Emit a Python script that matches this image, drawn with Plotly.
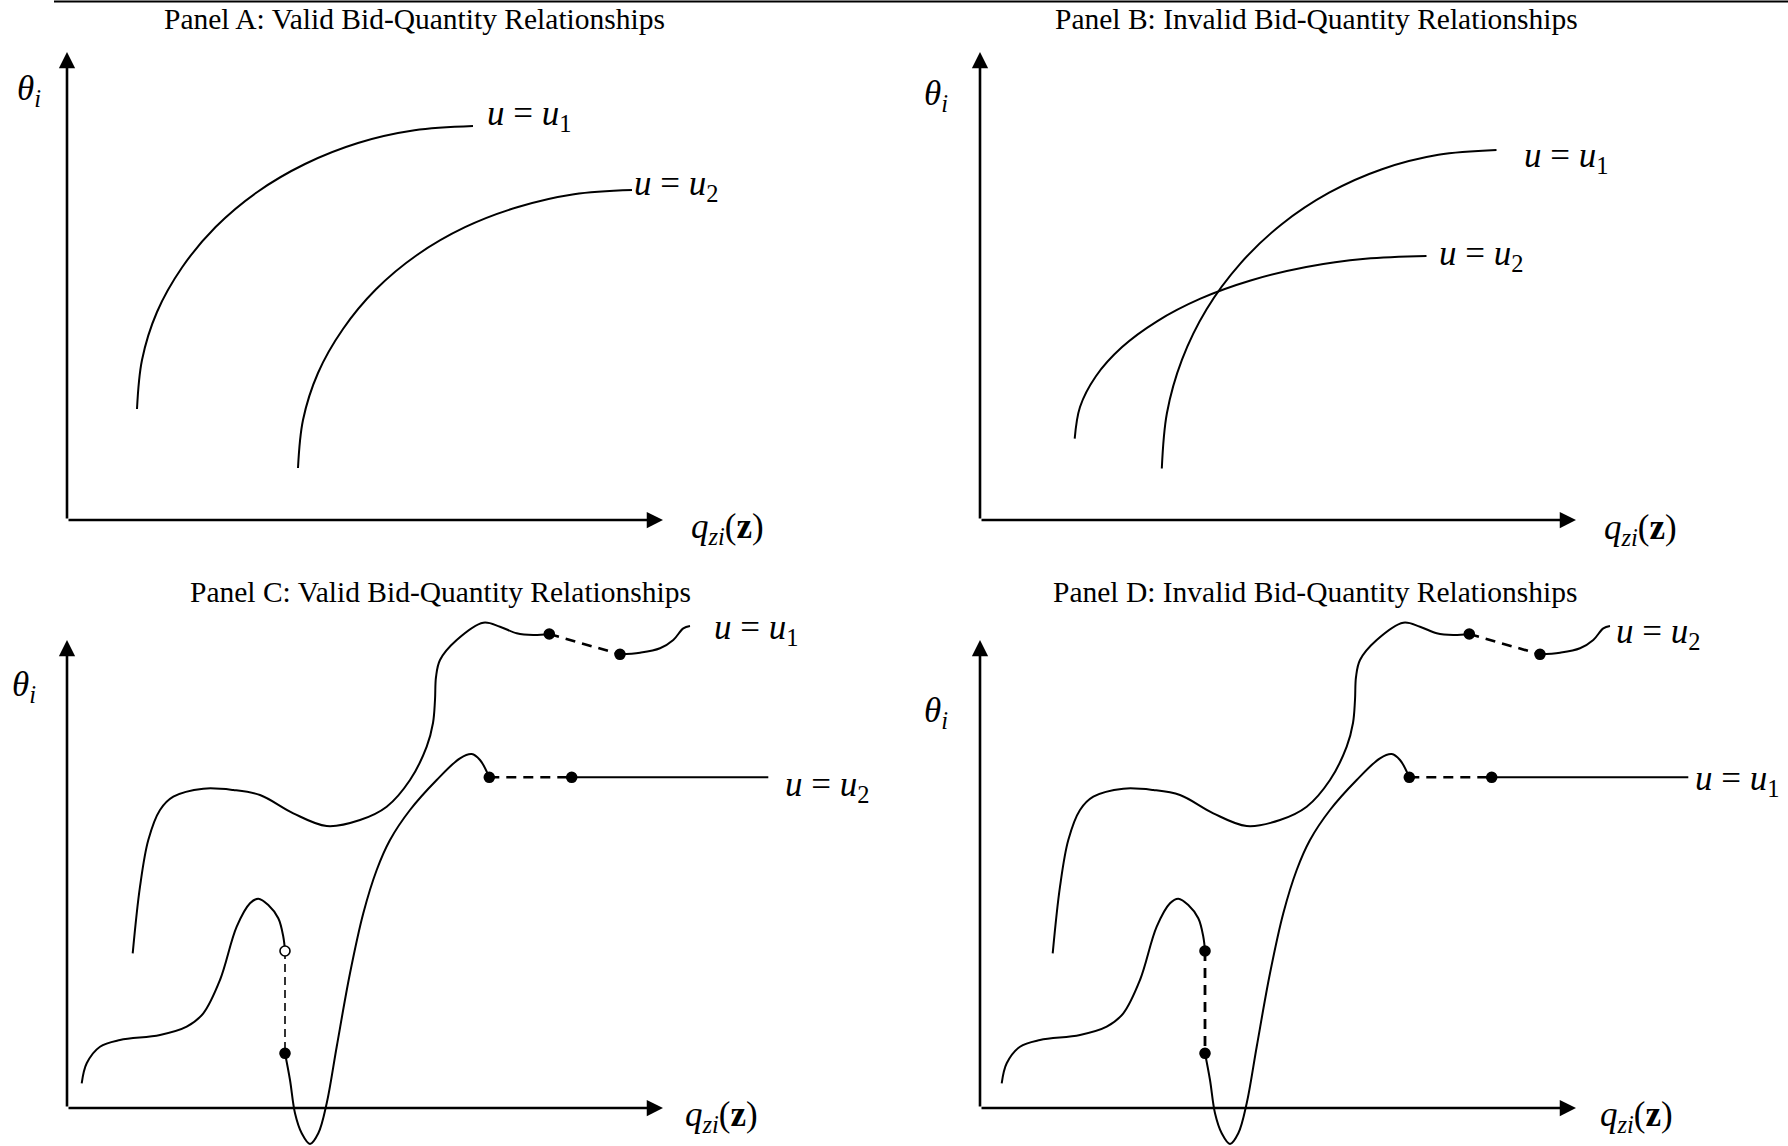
import plotly.graph_objects as go

W, H = 1788, 1146

# ---------------- data (axis units; origin = axis corner) ----------------
# Panel A
a_u1_x = [70, 75, 90, 115, 148.6, 190, 238, 291, 347.5, 406]
a_u1_y = [111, 160, 208, 252.5, 293, 327.8, 356, 377, 389.7, 394]
a_u2_x = [231, 236, 251, 276, 309, 350, 398, 451, 507, 565]
a_u2_y = [52, 100, 147, 191, 230.7, 265, 292.8, 313, 325.8, 330]

# Panel B
b_u1_x = [181.8, 186.9, 202, 226.6, 260.1, 301.4, 349.1, 402, 458.4, 516.5]
b_u1_y = [51.5, 106.8, 160.4, 210.8, 256.2, 295.5, 327.3, 350.8, 365.2, 370]
b_u2_x = [94.7, 100, 115.9, 141.8, 177, 220.4, 270.6, 326.2, 385.4, 446.5]
b_u2_y = [81.3, 113, 143.8, 172.7, 198.7, 221.3, 239.5, 253, 261.2, 264]

# Panels C and D (same curves)
upper_a_x = [65.7, 73, 81.3, 93, 106.3, 136.3, 166.3, 193, 226.3, 259.7, 293, 319.7,
             343, 359.7, 366, 368, 369, 373, 389.7, 416.3, 433, 449.7, 466.3, 482.3]
upper_a_y = [154.7, 221.3, 268, 298, 311.3, 319.3, 318, 313, 294.7, 282, 288, 301.3,
             328, 361.3, 385, 408, 431, 448, 468, 485.3, 481.3, 474.7, 473, 474]
upper_jump_x = [482.3, 553]
upper_jump_y = [474, 453.7]
upper_b_x = [553, 573, 593, 606.3, 616.3, 623]
upper_b_y = [453.7, 455.3, 459.7, 468, 479.7, 482]

lower_a_x = [14.7, 19.7, 33, 53, 93, 119.7, 136.3, 153, 169.7, 183, 191.3, 201.3, 211.3, 216.3, 218]
lower_a_y = [24.7, 44.7, 61.3, 68, 73, 81.3, 94.7, 128, 181.3, 204.7, 209.3, 203, 189.7, 171.3, 157]
lower_jump1_x = [218, 218]
lower_jump1_y = [157, 54.7]
lower_b_x = [218, 223, 228, 234.7, 243, 251.3, 259.7, 269.7, 283, 296.3, 309.7, 323,
             343, 369.7, 393, 404.7, 413, 422.3]
lower_b_y = [54.7, 28, -5.3, -25.3, -36, -25.3, 4.7, 61.3, 134.7, 194.7, 238, 268,
             298, 328, 349.7, 354, 348, 330.7]
lower_jump2_x = [422.3, 504.7]
lower_jump2_y = [330.7, 330.7]
lower_c_x = [504.7, 701.3]
lower_c_y = [330.7, 330.7]

axis_len_x = 596
axis_len_y = 468

titles = ["Panel A: Valid Bid-Quantity Relationships",
          "Panel B: Invalid Bid-Quantity Relationships",
          "Panel C: Valid Bid-Quantity Relationships",
          "Panel D: Invalid Bid-Quantity Relationships"]

U1 = "<i>u</i> = <i>u</i><sub>1</sub>"
U2 = "<i>u</i> = <i>u</i><sub>2</sub>"
THETA = "<i>θ</i><sub><i>i</i></sub>"
QZI = "<i>q</i><sub><i>zi</i></sub>(<b>z</b>)"

# ---------------- layout config (pixels) ----------------
panels = [
    dict(key="", box=(0, 0, 894, 573), origin=(67, 520), axis_at=0,
         title_xy=(414, 19)),
    dict(key="2", box=(894, 0, 1788, 573), origin=(980, 520), axis_at=0,
         title_xy=(1316, 19)),
    dict(key="3", box=(0, 573, 894, 1146), origin=(67, 1108), axis_at=0,
         title_xy=(440, 592)),
    dict(key="4", box=(894, 573, 1788, 1146), origin=(987, 1108), axis_at=-7,
         title_xy=(1315, 592)),
]

SERIF = "Liberation Serif"
MATH_SIZE = 35
TITLE_SIZE = 29.5
INK = "black"

fig = go.Figure()
layout = dict(width=W, height=H, margin=dict(l=0, r=0, t=0, b=0),
              paper_bgcolor="white", plot_bgcolor="white", showlegend=False)
annotations = []
shapes = []


def line(p, xs, ys, width=2.0, dash=None):
    k = p["key"]
    fig.add_trace(go.Scatter(
        x=xs, y=ys, mode="lines", xaxis="x" + k, yaxis="y" + k,
        line=dict(color=INK, width=width, shape="spline", smoothing=1.0,
                  dash=dash),
        hoverinfo="skip"))


def dots(p, xs, ys, filled):
    k = p["key"]
    fig.add_trace(go.Scatter(
        x=xs, y=ys, mode="markers", xaxis="x" + k, yaxis="y" + k,
        marker=dict(size=10, color=[INK if f else "white" for f in filled],
                    line=dict(color=INK, width=1.6)),
        cliponaxis=False, hoverinfo="skip"))


def label(p, x, y, text, anchor="left", size=MATH_SIZE):
    k = p["key"]
    annotations.append(dict(x=x, y=y, xref="x" + k, yref="y" + k, text=text,
                            showarrow=False, xanchor=anchor, yanchor="middle",
                            font=dict(family=SERIF, size=size, color=INK)))


for i, p in enumerate(panels):
    k = p["key"]
    x0, y0, x1, y1 = p["box"]
    ox, oy = p["origin"]
    layout["xaxis" + k] = dict(domain=[x0 / W, x1 / W], range=[x0 - ox, x1 - ox],
                               visible=False, fixedrange=True)
    layout["yaxis" + k] = dict(domain=[1 - y1 / H, 1 - y0 / H], range=[oy - y1, oy - y0],
                               visible=False, fixedrange=True)
    ax0 = p["axis_at"]
    # axes drawn as arrows
    annotations.append(dict(x=ax0 + axis_len_x, y=0, ax=ax0, ay=0,
                            xref="x" + k, yref="y" + k, axref="x" + k, ayref="y" + k,
                            text="", showarrow=True, arrowhead=2, arrowsize=1.25,
                            arrowwidth=2.6, arrowcolor=INK, standoff=0))
    annotations.append(dict(x=ax0, y=axis_len_y, ax=ax0, ay=0,
                            xref="x" + k, yref="y" + k, axref="x" + k, ayref="y" + k,
                            text="", showarrow=True, arrowhead=2, arrowsize=1.25,
                            arrowwidth=2.6, arrowcolor=INK, standoff=0))
    tx, ty = p["title_xy"]
    annotations.append(dict(x=tx / W, y=1 - ty / H, xref="paper", yref="paper",
                            text=titles[i], showarrow=False,
                            xanchor="center", yanchor="middle",
                            font=dict(family=SERIF, size=TITLE_SIZE, color=INK)))

pA, pB, pC, pD = panels

# Panel A
line(pA, a_u1_x, a_u1_y)
line(pA, a_u2_x, a_u2_y)
label(pA, -38, 430, THETA, anchor="center")
label(pA, 417.5, 404.5, U1)
label(pA, 564.5, 334.5, U2)
label(pA, 622, -8, QZI)

# Panel B
line(pB, b_u1_x, b_u1_y)
line(pB, b_u2_x, b_u2_y)
label(pB, -44.5, 425, THETA, anchor="center")
label(pB, 541.5, 363, U1)
label(pB, 456.5, 265, U2)
label(pB, 622, -9, QZI)

# Panels C and D
for p, open_top in ((pC, True), (pD, False)):
    line(p, upper_a_x, upper_a_y)
    line(p, upper_jump_x, upper_jump_y, width=2.6, dash="10px,7px")
    line(p, upper_b_x, upper_b_y)
    line(p, lower_a_x, lower_a_y)
    if open_top:
        line(p, lower_jump1_x, lower_jump1_y, width=1.6, dash="8px,5px")
    else:
        line(p, lower_jump1_x, lower_jump1_y, width=2.8, dash="10px,7px")
    line(p, lower_b_x, lower_b_y)
    line(p, lower_jump2_x, lower_jump2_y, width=2.6, dash="10px,7px")
    line(p, lower_c_x, lower_c_y)
    dots(p, [upper_jump_x[0], upper_jump_x[1], lower_jump2_x[0], lower_jump2_x[1],
             lower_jump1_x[1], lower_jump1_x[0]],
         [upper_jump_y[0], upper_jump_y[1], lower_jump2_y[0], lower_jump2_y[1],
          lower_jump1_y[1], lower_jump1_y[0]],
         [True, True, True, True, True, not open_top])

label(pC, -43, 422, THETA, anchor="center")
label(pC, 645, 478.5, U1)
label(pC, 716, 322, U2)
label(pC, 616, -8, QZI)

label(pD, -51.5, 396, THETA, anchor="center")
label(pD, 627, 475, U2)
label(pD, 706, 328, U1)
label(pD, 611, -8, QZI)

# rule across the top
shapes.append(dict(type="line", xref="paper", yref="paper", x0=54 / W, x1=1.0,
                   y0=1 - 1.5 / H, y1=1 - 1.5 / H, line=dict(color=INK, width=2)))

layout["annotations"] = annotations
layout["shapes"] = shapes
fig.update_layout(**layout)

fig.write_html("out.html", config={"displayModeBar": False, "staticPlot": True},
               post_script="document.body.style.margin='0';")
